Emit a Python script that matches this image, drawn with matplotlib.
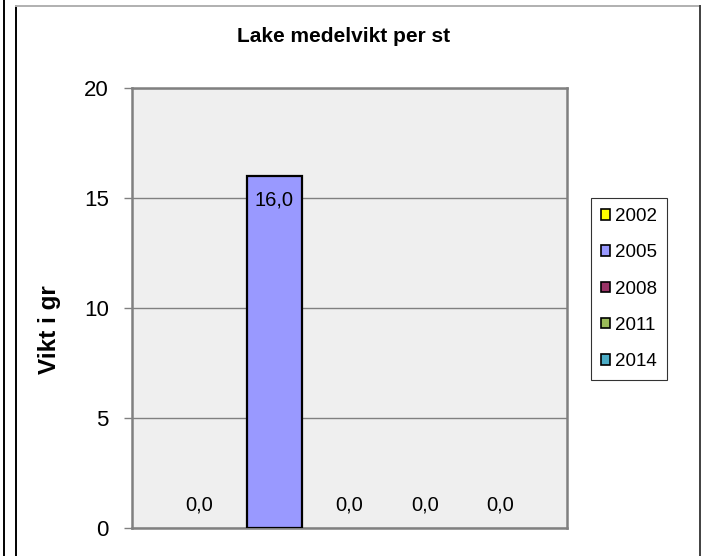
import matplotlib
matplotlib.use("Agg")
import matplotlib.pyplot as plt
from matplotlib.patches import Patch
from matplotlib.lines import Line2D

plt.rcParams['font.family'] = ['Liberation Sans', 'DejaVu Sans']

# data
years = ['2002', '2005', '2008', '2011', '2014']
vikt = [0.0, 16.0, 0.0, 0.0, 0.0]
colors = ['#FFFF00', '#9999FF', '#993366', '#9BBB59', '#4BACC6']
yticks = [0, 5, 10, 15, 20]

W, H = 703, 556
fig = plt.figure(figsize=(W / 100, H / 100), dpi=100)
ax = fig.add_axes([132 / W, 27.7 / H, 435 / W, 440.6 / H])
ax.set_facecolor('#EFEFEF')

# one category, five series side by side
step = 0.173
width = 0.1264
for i, (yr, v, c) in enumerate(zip(years, vikt, colors)):
    x = (i - 2) * step
    ax.bar(x, v, width=width, color=c,
           edgecolor='black' if v > 0 else 'none', linewidth=1.6, zorder=3)
    txt = f"{v:.1f}".replace('.', ',')
    off = 16.5 if v == 0 else -17.5
    ax.annotate(txt, (x, v), xytext=(0, off), textcoords='offset points',
                ha='center', va='center', fontsize=14.5, zorder=4)

ax.set_xlim(-0.5, 0.5)
ax.set_ylim(0, 20)
ax.set_yticks(yticks)
ax.set_xticks([])
ax.yaxis.grid(True, color='#808080', linewidth=1.0, zorder=1)
ax.tick_params(axis='y', direction='out', length=5.8, width=1.0,
               color='#808080', labelsize=16, pad=11)
for s in ax.spines.values():
    s.set_color('#808080')
    s.set_linewidth(1.8)

ax.set_ylabel('Vikt i gr', fontsize=17.5, fontweight='bold')
ax.yaxis.label.set_va('center')
ax.yaxis.set_label_coords(-0.1908, 0.452)

ax.set_title('Lake medelvikt per st', fontsize=15, fontweight='bold',
             x=0.487, y=1.097, va='center')

handles = [Patch(facecolor=c, edgecolor='black', linewidth=1.2) for c in colors]
leg = fig.legend(handles, years, loc='upper left',
                 bbox_to_anchor=(590.7 / W, 1 - 198 / H), fontsize=13.5,
                 frameon=True, fancybox=False, borderaxespad=0,
                 handlelength=0.5, handleheight=0.5, handletextpad=0.25,
                 labelspacing=1.02, borderpad=0.55)
leg.get_frame().set_edgecolor('black')
leg.get_frame().set_linewidth(0.8)

# outer chart frame
fig.add_artist(Line2D([4 / W, 4 / W], [0, 1], color='black', linewidth=1.4))
fig.add_artist(Line2D([16 / W, 16 / W], [0, 1 - 6 / H], color='black', linewidth=1.4))
fig.add_artist(Line2D([16 / W, 700 / W], [1 - 6 / H, 1 - 6 / H], color='#B0B0B0', linewidth=1.4))
fig.add_artist(Line2D([700 / W, 700 / W], [0, 1 - 6 / H], color='#404040', linewidth=1.4))

fig.savefig('out.png', dpi=100)
